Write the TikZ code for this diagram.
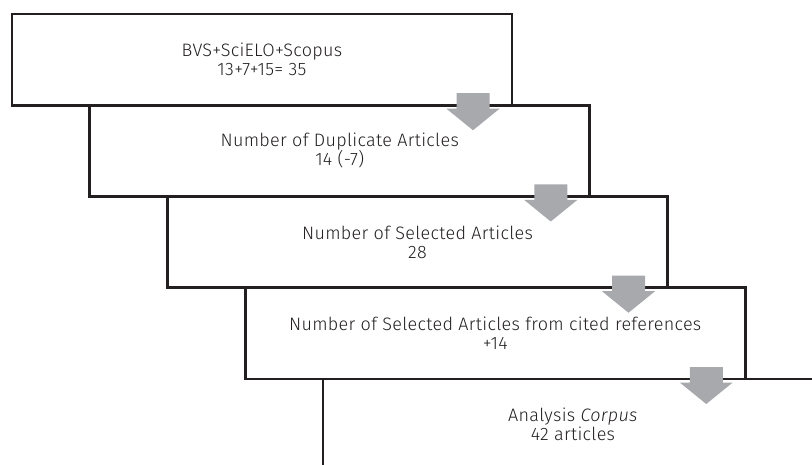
\documentclass[tikz,border=0pt]{standalone}
\usepackage{fontspec}
\IfFontExistsTF{Fira Sans Light}{%
  \setmainfont{Fira Sans}[UprightFont={* Light},ItalicFont={* Light Italic},BoldFont={* Regular},LetterSpace=1.7]}{%
  \setmainfont{Fira Sans}[LetterSpace=1.7]}
\definecolor{linecol}{HTML}{231F20}
\definecolor{arrowgray}{HTML}{A7A9AC}
\tikzset{
  stagebox/.style={draw=linecol, line width=2.7pt, minimum width=500pt, minimum height=91.25pt,
    inner sep=0pt, outer sep=0pt, anchor=north west, align=center,
    font=\fontsize{18}{19}\selectfont, text=linecol},
  downarrow/.style={fill=arrowgray}
}
\newcommand{\blockarrow}[1]{%
  \fill[downarrow, shift={(#1.south east)}]
    (-55.5,-12) -- (-22.5,-12) -- (-22.5,3.5) -- (-12.5,3.5) -- (-39,25)
    -- (-65.5,3.5) -- (-55.5,3.5) -- cycle;}
\begin{document}
\begin{tikzpicture}[x=1pt,y=-1pt]
\useasboundingbox (0,0) rectangle (812,465);
\node[stagebox] (b1) at (12,14) {BVS+SciELO+Scopus\\13+7+15= 35};
\node[stagebox] (b2) at (89.75,105.25) {Number of Duplicate Articles\\14 (-7)};
\node[stagebox] (b3) at (167.5,196.5) {Number of Selected Articles\\28};
\node[stagebox] (b4) at (245.25,287.75) {Number of Selected Articles from cited references\\+14};
\node[stagebox] (b5) at (323,379) {Analysis \textit{Corpus}\\42 articles};
\blockarrow{b1}
\blockarrow{b2}
\blockarrow{b3}
\blockarrow{b4}
\end{tikzpicture}
\end{document}
